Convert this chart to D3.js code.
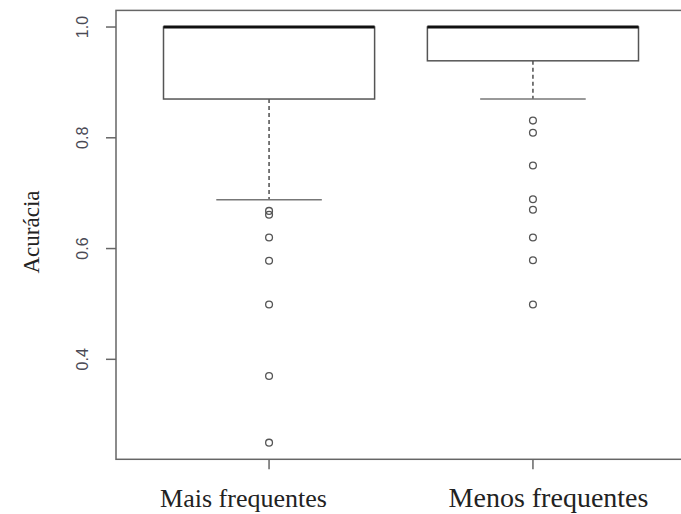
<!DOCTYPE html>
<html>
<head>
<meta charset="utf-8">
<script src="https://cdn.jsdelivr.net/npm/d3@7"></script>
<style>
  html, body { margin: 0; padding: 0; background: #fff; }
  svg { display: block; }
</style>
</head>
<body>
<svg id="chart" width="681" height="514"></svg>
<script>
// ---- data ----
const categories = ["Mais frequentes", "Menos frequentes"];
const positions = [1, 2];
const q1Values = [0.870, 0.939];
const medianValues = [1.0, 1.0];
const q3Values = [1.0, 1.0];
const whiskerLow = [0.688, 0.870];
const whiskerHigh = [1.0, 1.0];
const outliers = [
  [0.668, 0.661, 0.620, 0.578, 0.499, 0.370, 0.2495],
  [0.831, 0.809, 0.750, 0.689, 0.670, 0.620, 0.579, 0.499]
];
const yTicks = [0.4, 0.6, 0.8, 1.0];
const yLabel = "Acurácia";

// ---- layout ----
(function () {
const svg = d3.select("#chart");
const pLeft = 116, pRight = 686, pTop = 10.4, pBottom = 459.3;

const allVals = [].concat(...outliers, q1Values, q3Values, whiskerLow, whiskerHigh);
const yMin = d3.min(allVals), yMax = d3.max(allVals);
const pad = (yMax - yMin) * 0.04;
const y = d3.scaleLinear().domain([yMin - pad, yMax + pad]).range([pBottom, pTop]);
const x = d3.scaleLinear().domain([0.42, 2.58]).range([pLeft, pRight]);
const unit = x(1) - x(0);
const boxW = 0.8 * unit, capW = 0.4 * unit;

const lineCol = "#666";

// frame
svg.append("rect")
  .attr("x", pLeft).attr("y", pTop)
  .attr("width", pRight - pLeft).attr("height", pBottom - pTop)
  .attr("fill", "none").attr("stroke", lineCol).attr("stroke-width", 1.5);

// y axis ticks (R-style, labels parallel to axis)
const yAxis = svg.append("g");
yAxis.selectAll("line").data(yTicks).enter().append("line")
  .attr("x1", pLeft - 10).attr("x2", pLeft)
  .attr("y1", d => y(d)).attr("y2", d => y(d))
  .attr("stroke", lineCol).attr("stroke-width", 1.5);
yAxis.selectAll("text").data(yTicks).enter().append("text")
  .attr("transform", d => `translate(88,${y(d)}) rotate(-90)`)
  .attr("text-anchor", "middle")
  .attr("font-family", "Liberation Sans, Arial, sans-serif")
  .attr("font-size", 16)
  .attr("fill", "#4a4a55")
  .text(d => d3.format(".1f")(d));

// x axis ticks
svg.append("g").selectAll("line").data(positions).enter().append("line")
  .attr("x1", d => x(d)).attr("x2", d => x(d))
  .attr("y1", pBottom).attr("y2", pBottom + 10)
  .attr("stroke", lineCol).attr("stroke-width", 1.5);

// x labels (serif, placed manually in original)
const labelCenters = [243.5, 548.5];
const labelSizes = [26, 28];
svg.append("g").selectAll("text").data(categories).enter().append("text")
  .attr("x", (d, i) => labelCenters[i])
  .attr("y", 507)
  .attr("text-anchor", "middle")
  .attr("font-family", "Liberation Serif, Times New Roman, serif")
  .attr("font-size", (d, i) => labelSizes[i])
  .attr("fill", "#222")
  .text(d => d);

// y label
svg.append("text")
  .attr("transform", `translate(39,232) rotate(-90)`)
  .attr("text-anchor", "middle")
  .attr("font-family", "Liberation Serif, Times New Roman, serif")
  .attr("font-size", 23)
  .attr("fill", "#222")
  .text(yLabel);

// boxes
const g = svg.append("g");
positions.forEach((p, i) => {
  const cx = x(p);
  g.append("line")
    .attr("x1", cx).attr("x2", cx)
    .attr("y1", y(q1Values[i])).attr("y2", y(whiskerLow[i]))
    .attr("stroke", "#333").attr("stroke-width", 1.3)
    .attr("stroke-dasharray", "4,3");
  g.append("line")
    .attr("x1", cx - capW / 2).attr("x2", cx + capW / 2)
    .attr("y1", y(whiskerLow[i])).attr("y2", y(whiskerLow[i]))
    .attr("stroke", "#777").attr("stroke-width", 1.5);
  g.append("rect")
    .attr("x", cx - boxW / 2).attr("y", y(q3Values[i]))
    .attr("width", boxW).attr("height", y(q1Values[i]) - y(q3Values[i]))
    .attr("fill", "#fff").attr("stroke", "#555").attr("stroke-width", 1.5);
  g.append("line")
    .attr("x1", cx - boxW / 2).attr("x2", cx + boxW / 2)
    .attr("y1", y(medianValues[i])).attr("y2", y(medianValues[i]))
    .attr("stroke", "#111").attr("stroke-width", 3);
  g.selectAll(null).data(outliers[i]).enter().append("circle")
    .attr("cx", cx).attr("cy", d => y(d)).attr("r", 3.4)
    .attr("fill", "none").attr("stroke", "#555").attr("stroke-width", 1.3);
});
})();
</script>
</body>
</html>
